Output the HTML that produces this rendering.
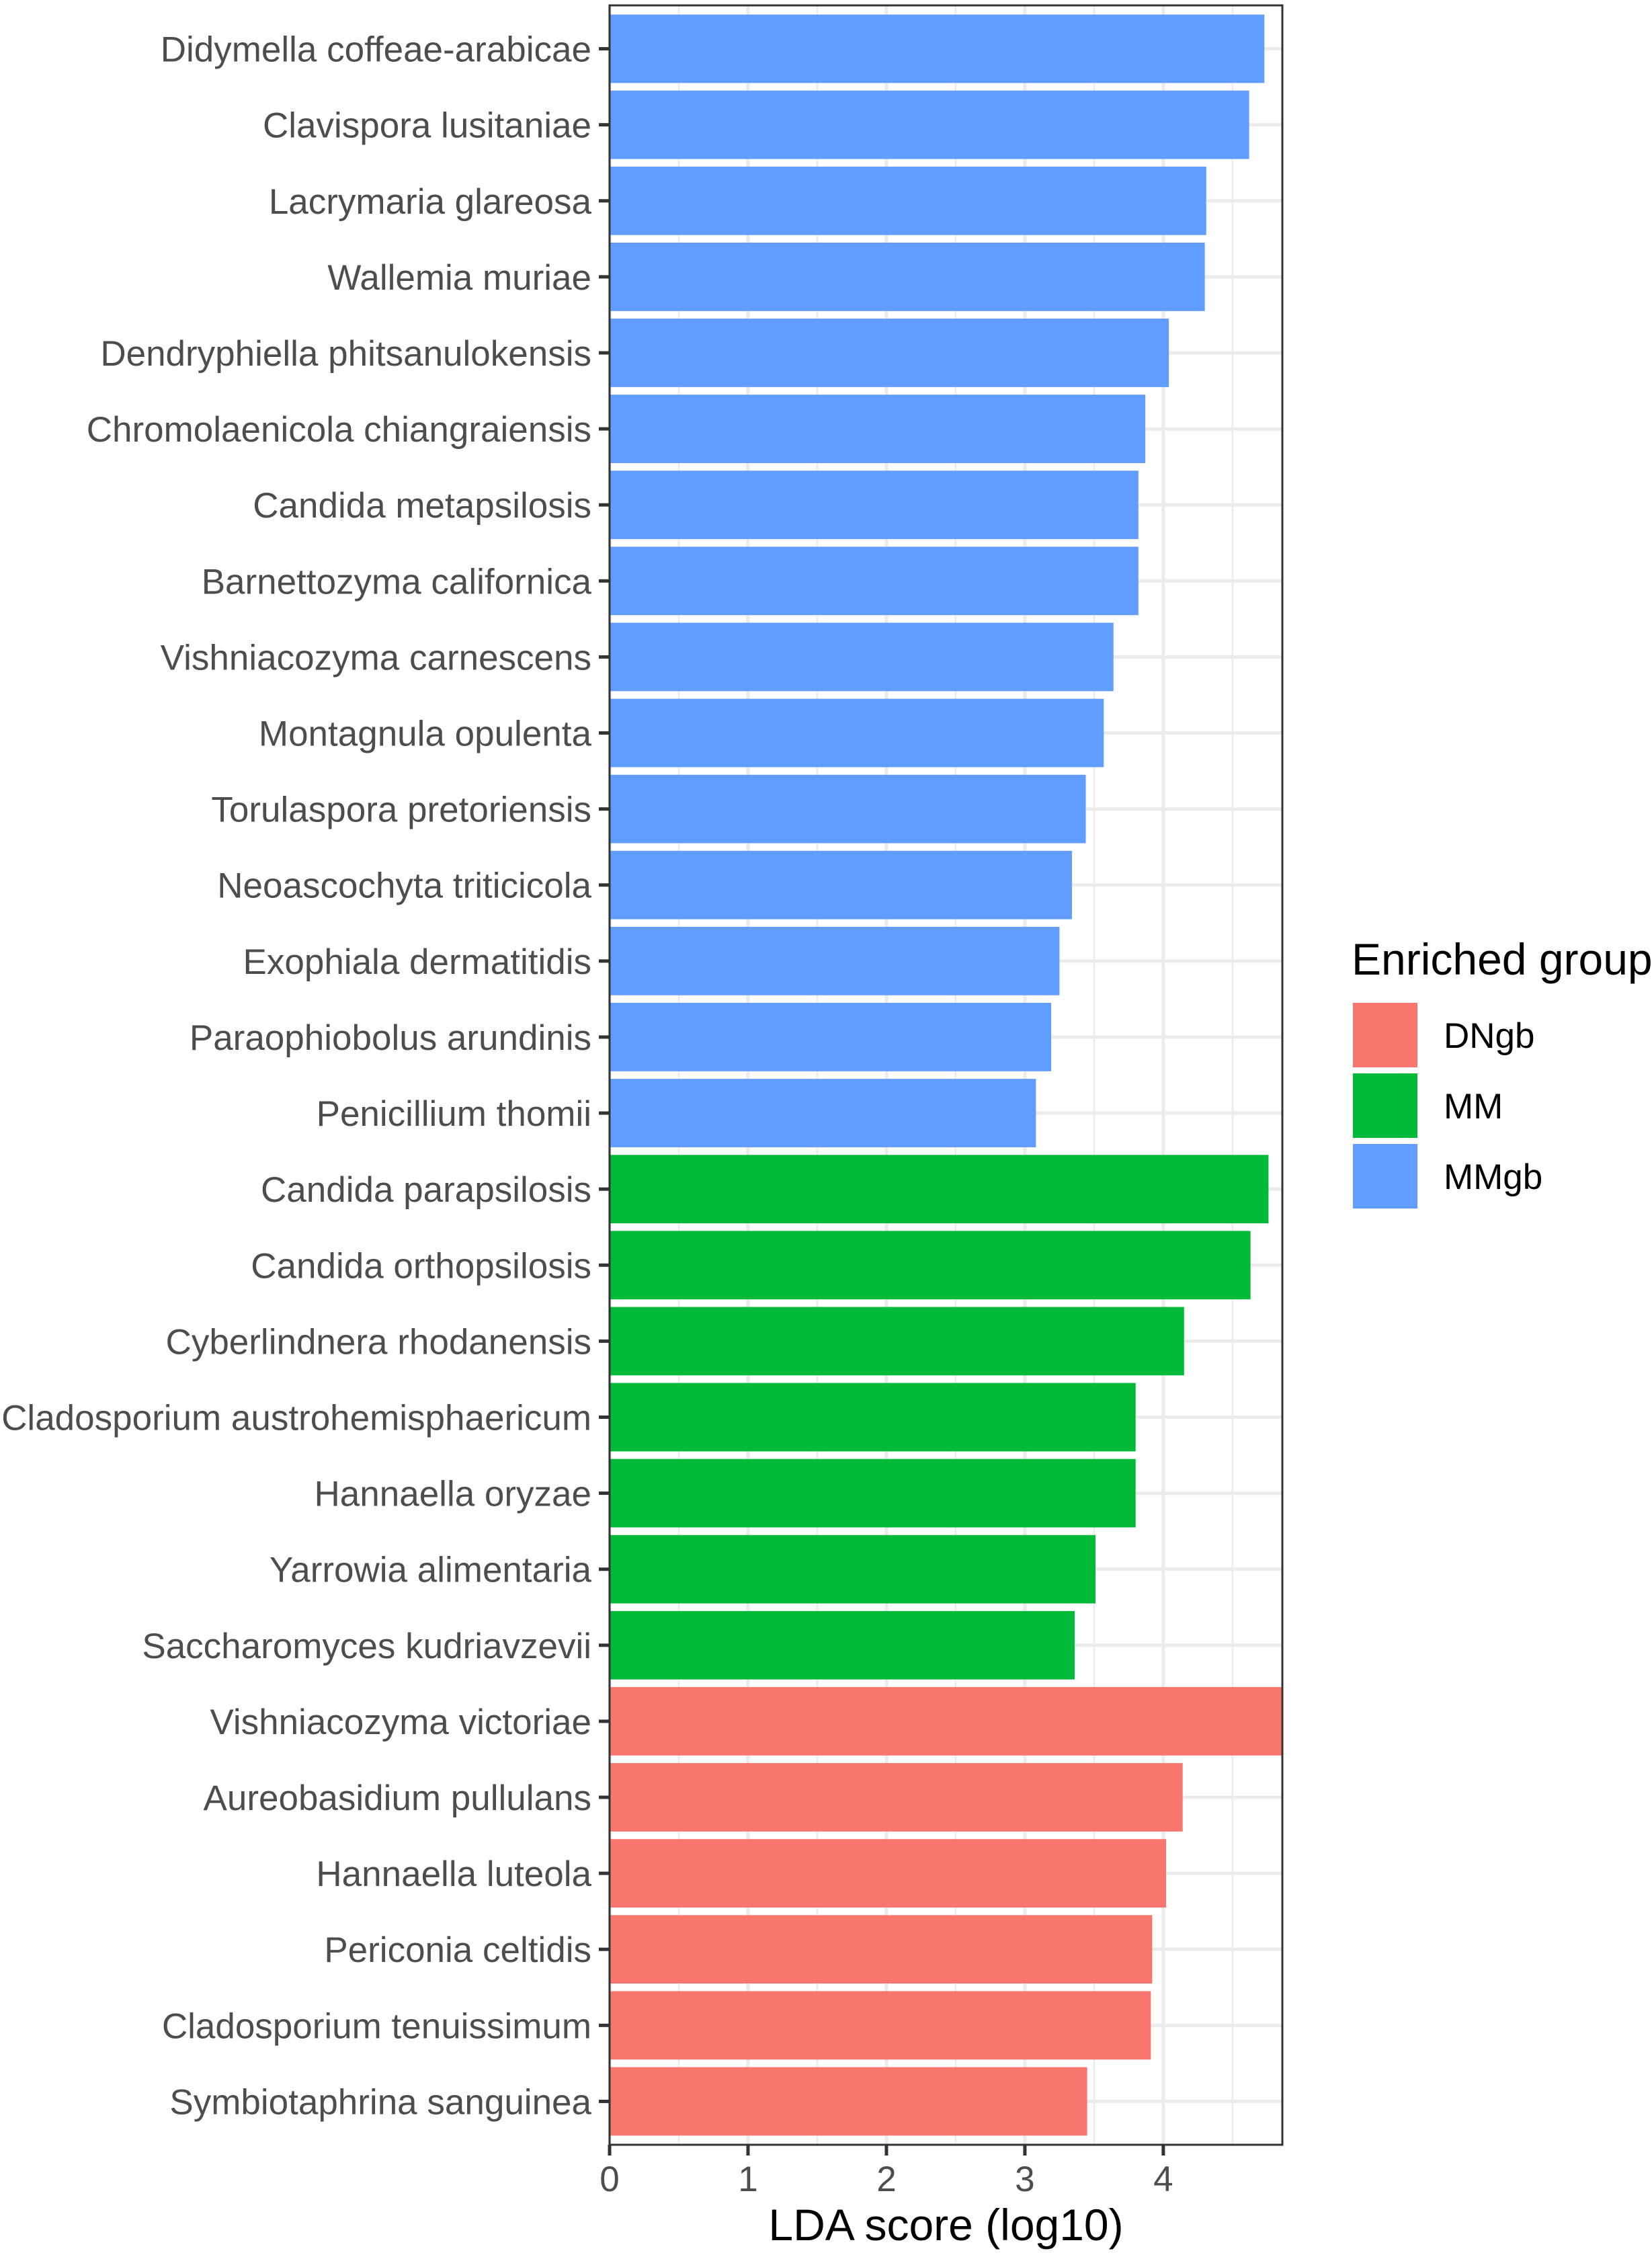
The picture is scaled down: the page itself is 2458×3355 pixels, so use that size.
<!DOCTYPE html>
<html><head><meta charset="utf-8"><style>
html,body{margin:0;padding:0;background:#fff;}
svg{display:block;font-family:"Liberation Sans",Arial,sans-serif;}
</style></head><body>
<svg id="chart" width="2458" height="3355" viewBox="0 0 2458 3355"></svg>
<script>
const taxa = ["Didymella coffeae-arabicae","Clavispora lusitaniae","Lacrymaria glareosa","Wallemia muriae","Dendryphiella phitsanulokensis","Chromolaenicola chiangraiensis","Candida metapsilosis","Barnettozyma californica","Vishniacozyma carnescens","Montagnula opulenta","Torulaspora pretoriensis","Neoascochyta triticicola","Exophiala dermatitidis","Paraophiobolus arundinis","Penicillium thomii","Candida parapsilosis","Candida orthopsilosis","Cyberlindnera rhodanensis","Cladosporium austrohemisphaericum","Hannaella oryzae","Yarrowia alimentaria","Saccharomyces kudriavzevii","Vishniacozyma victoriae","Aureobasidium pullulans","Hannaella luteola","Periconia celtidis","Cladosporium tenuissimum","Symbiotaphrina sanguinea"];
const ldaScores = [4.73,4.62,4.31,4.30,4.04,3.87,3.82,3.82,3.64,3.57,3.44,3.34,3.25,3.19,3.08,4.76,4.63,4.15,3.80,3.80,3.51,3.36,4.86,4.14,4.02,3.92,3.91,3.45];
const groups = ["MMgb","MMgb","MMgb","MMgb","MMgb","MMgb","MMgb","MMgb","MMgb","MMgb","MMgb","MMgb","MMgb","MMgb","MMgb","MM","MM","MM","MM","MM","MM","MM","DNgb","DNgb","DNgb","DNgb","DNgb","DNgb"];
const xTicks = [0,1,2,3,4];
const legendGroups = ["DNgb","MM","MMgb"];
const colors = {DNgb:"#F8766D",MM:"#00BA38",MMgb:"#619CFF"};

const NS="http://www.w3.org/2000/svg";
const svg=document.getElementById('chart');
const L=907,R=1908,T=16,B=3183;
const xMax=4.86;
const x=v=>L+(v/xMax)*(R-L);
const step=(B-T)/taxa.length;
const yc=i=>T+step*(i+0.5);
function mk(tag,attrs,parent){const e=document.createElementNS(NS,tag);for(const k in attrs)e.setAttribute(k,attrs[k]);(parent||svg).appendChild(e);return e;}

for(let v=0.5;v<xMax;v+=1){const g=mk('line',{x1:x(v),x2:x(v),y1:8,y2:3191,stroke:'#ebebeb','stroke-width':2.5});

}
xTicks.forEach(v=>{const g=mk('line',{x1:x(v),x2:x(v),y1:8,y2:3191,stroke:'#ebebeb','stroke-width':5});

});
taxa.forEach((t,i)=>{const g=mk('line',{x1:L,x2:R,y1:yc(i),y2:yc(i),stroke:'#ebebeb','stroke-width':5});

});

taxa.forEach((t,i)=>{
 const h=step*0.9;
 const r=mk('rect',{x:L,y:yc(i)-h/2,width:x(ldaScores[i])-L,height:h,fill:colors[groups[i]]});
 
 
 const tk=mk('line',{x1:L-16,x2:L,y1:yc(i),y2:yc(i),stroke:'#333','stroke-width':5});
 
 
 const lb=mk('text',{x:L-freeze(27),y:yc(i)+19,'text-anchor':'end','font-size':53,fill:'#4d4d4d'});
 lb.textContent=t;
 
 
});
function freeze(v){return v;}

const bd=mk('rect',{x:L,y:8,width:R-L,height:3191-8,fill:'none',stroke:'#333','stroke-width':3});



xTicks.forEach(v=>{
 const tk=mk('line',{x1:x(v),x2:x(v),y1:3191,y2:3207,stroke:'#333','stroke-width':5});
 
 
 const lb=mk('text',{x:x(v),y:3260,'text-anchor':'middle','font-size':53,fill:'#4d4d4d'});
 lb.textContent=v;
 
 
});
const xt=mk('text',{x:(L+R)/2,y:3333,'text-anchor':'middle','font-size':66,fill:'#000'});
xt.textContent='LDA score (log10)';



const lt=mk('text',{x:2011,y:1450,'font-size':66,fill:'#000'});
lt.textContent='Enriched group';


legendGroups.forEach((g,i)=>{
 const y0=1492+i*105;
 const k=mk('rect',{x:2013,y:y0,width:96,height:96,fill:colors[g]});
 
 
 const t=mk('text',{x:2148,y:y0+67,'font-size':53,fill:'#000'});
 t.textContent=g;
 
 
});
</script>
</body></html>
